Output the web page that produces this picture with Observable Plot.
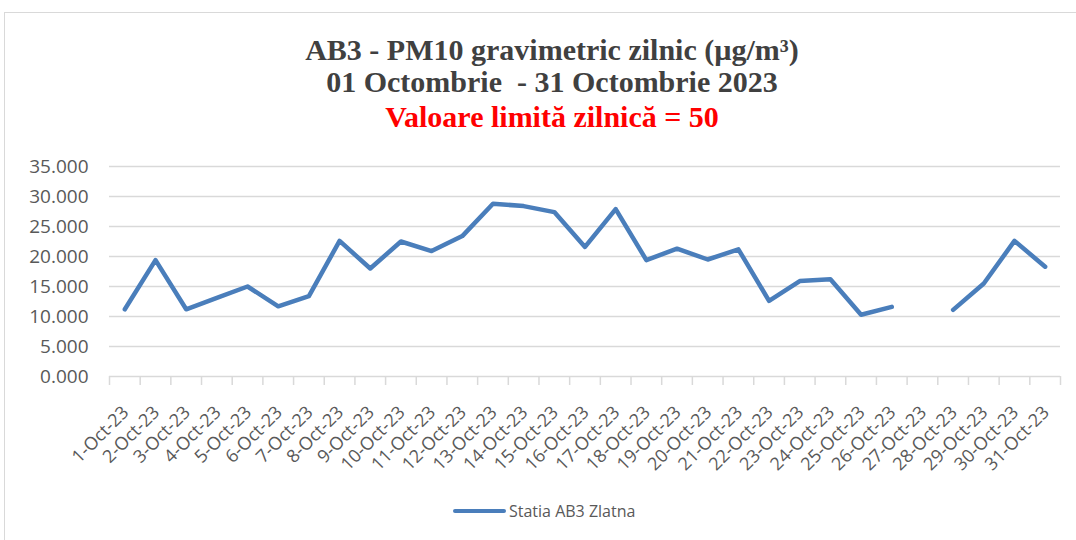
<!DOCTYPE html>
<html><head><meta charset="utf-8">
<script src="https://cdn.jsdelivr.net/npm/d3@7"></script>
<script src="https://cdn.jsdelivr.net/npm/@observablehq/plot@0.6"></script>
<style>
body{margin:0;background:#fff}
#wrap{position:relative;width:1076px;height:540px;overflow:hidden;background:#fff}
#frame{position:absolute;left:4px;top:12px;width:1100px;height:600px;border:1.5px solid #d9d9d9;box-sizing:border-box}
.t{position:absolute;left:0;width:1104px;text-align:center;font-family:"Liberation Serif","Times New Roman",serif;font-weight:bold;font-size:30px;line-height:30px;color:#404040;white-space:pre}
#chart{position:absolute;left:0;top:0}
#legend{position:absolute;left:453px;top:499px;height:24px;display:flex;align-items:center;font-family:"Open Sans",sans-serif;font-size:16px;color:#595959}
#legend .sw{width:53px;height:4.5px;background:#4a7ebb;border-radius:2px;margin-right:3px}
</style></head>
<body>
<div id="wrap">
  <div id="frame"></div>
  <div id="chart"></div>
  <div class="t" style="top:34.5px">AB3 - PM10 gravimetric zilnic (µg/m³)</div>
  <div class="t" style="top:66.5px">01 Octombrie  - 31 Octombrie 2023</div>
  <div class="t" style="top:101.5px;color:#ff0000">Valoare limită zilnică = 50</div>
  <div id="legend"><span class="sw"></span><span>Statia AB3 Zlatna</span></div>
</div>
<script>
const days = ["1-Oct-23","2-Oct-23","3-Oct-23","4-Oct-23","5-Oct-23","6-Oct-23","7-Oct-23","8-Oct-23","9-Oct-23","10-Oct-23","11-Oct-23","12-Oct-23","13-Oct-23","14-Oct-23","15-Oct-23","16-Oct-23","17-Oct-23","18-Oct-23","19-Oct-23","20-Oct-23","21-Oct-23","22-Oct-23","23-Oct-23","24-Oct-23","25-Oct-23","26-Oct-23","27-Oct-23","28-Oct-23","29-Oct-23","30-Oct-23","31-Oct-23"];
const pm10 = [11.2,19.4,11.2,13.1,15.0,11.7,13.4,22.6,18.0,22.5,20.9,23.4,28.8,28.4,27.4,21.6,27.9,19.4,21.3,19.5,21.2,12.6,15.9,16.2,10.3,11.6,null,11.1,15.5,22.6,18.3];
const yTicks = [0,5,10,15,20,25,30,35];

const data = days.map((d,i)=>({i:i+1, day:d, value:pm10[i]}));
const boundaries = d3.range(0, days.length+1).map(k=>k+0.5);
const left = 109, right = 1060;

const chart = Plot.plot({
  width:1076, height:540,
  marginLeft:left, marginRight:1076-right, marginTop:166, marginBottom:164,
  style:{fontFamily:"'Open Sans', sans-serif", background:"transparent", overflow:"visible"},
  x:{type:"linear", domain:[0.5, days.length+0.5], axis:null},
  y:{domain:[0,35], axis:null},
  marks:[
    Plot.ruleY(yTicks.filter(v=>v>0), {stroke:"#d9d9d9", strokeWidth:1.5}),
    Plot.ruleY([0], {stroke:"#d9d9d9", strokeWidth:1.5}),
    Plot.ruleX(boundaries, {x:d=>d, y1:0, y2:-1.5, stroke:"#d9d9d9", strokeWidth:1.5}),
    Plot.axisY({ticks:yTicks, tickSize:0, tickPadding:21, tickFormat:d3.format(".3f"), fontSize:19, fill:"#595959", label:null}),
    Plot.text(data, {x:"i", y:0, text:"day", rotate:-45, textAnchor:"end", lineAnchor:"top", dx:-4, dy:28, fontSize:18, fill:"#595959"}),
    Plot.line(data, {x:"i", y:"value", stroke:"#4a7ebb", strokeWidth:4.5, strokeLinejoin:"round", strokeLinecap:"round"})
  ]
});
document.getElementById("chart").appendChild(chart);
</script>
</body></html>
